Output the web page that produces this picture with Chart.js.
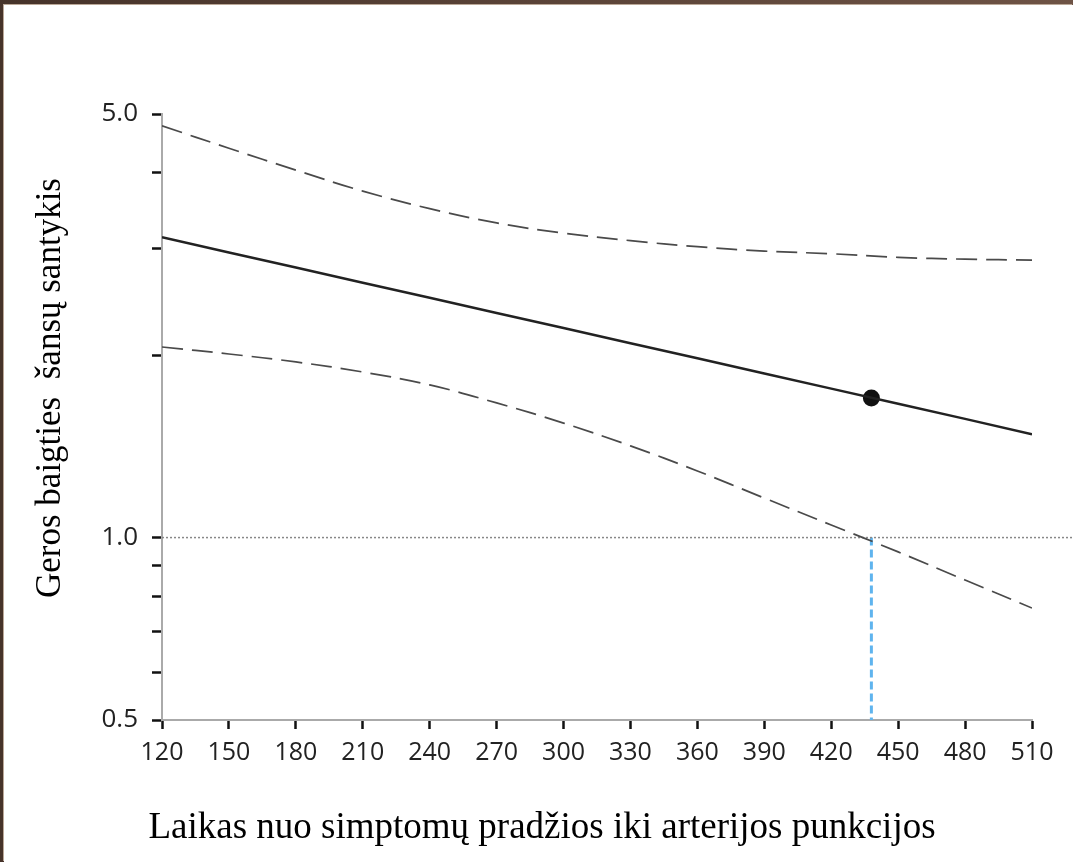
<!DOCTYPE html>
<html>
<head>
<meta charset="utf-8">
<script src="https://cdn.jsdelivr.net/npm/chart.js@4.4.1/dist/chart.umd.min.js"></script>
<style>
    html, body { margin: 0; padding: 0; }
    body {
        width: 1073px;
        height: 862px;
        overflow: hidden;
        background: linear-gradient(to right, #46332a, #6e5345);
        position: relative;
    }
    #frame {
        position: absolute;
        left: 4px;
        top: 5px;
        width: 1069px;
        height: 857px;
        background: #fff;
        box-shadow: -1px -1px 0 #bba898;
    }
    canvas { display: block; }
</style>
</head>
<body>
<div id="frame"><canvas id="or_chart" width="1069" height="857"></canvas></div>
<script>
// time from symptom onset (min)
var xValues = [120, 150, 180, 210, 240, 270, 300, 330, 360, 390, 420, 450, 480, 510];
// odds ratio and 95% CI
var oddsRatio = [3.13, 2.955, 2.79, 2.634, 2.487, 2.348, 2.217, 2.093, 1.976, 1.865, 1.761, 1.663, 1.57, 1.48];
var upperCI = [4.78, 4.39, 4.04, 3.73, 3.49, 3.305, 3.18, 3.09, 3.02, 2.97, 2.94, 2.90, 2.88, 2.87];
var lowerCI = [2.063, 2.009, 1.949, 1.876, 1.786, 1.668, 1.545, 1.417, 1.288, 1.162, 1.049, 0.947, 0.851, 0.765];

var markerX = [438];
var markerY = [1.70];

var refLineX = [120, 528];
var refLineY = [1, 1];
var crossLineX = [438, 438];
var crossLineY = [1, 0.5];

var xTicks = [120, 150, 180, 210, 240, 270, 300, 330, 360, 390, 420, 450, 480, 510];
var yTicks = [0.5, 0.6, 0.7, 0.8, 0.9, 1, 2, 3, 4, 5];
var yLabels = [0.5, 1, 5];

var xTitle = "Laikas nuo simptomų pradžios iki arterijos punkcijos";
var yTitle = "Geros baigties  šansų santykis";

function toPoints(xs, ys) {
    var pts = [];
    for (var i = 0; i < xs.length; i++) {
        pts.push({ x: xs[i], y: ys[i] });
    }
    return pts;
}

// axis titles drawn in place, the layout of the original is not centred on the plot
var axisTitles = {
    id: 'axisTitles',
    afterDraw: function (chart) {
        var ctx = chart.ctx;
        ctx.save();
        ctx.fillStyle = '#000';
        ctx.textAlign = 'center';
        ctx.textBaseline = 'alphabetic';
        ctx.font = '37px "Liberation Serif"';
        ctx.fillText(xTitle, 538, 833);
        ctx.translate(56, 383);
        ctx.rotate(-Math.PI / 2);
        ctx.font = '35px "Liberation Serif"';
        ctx.fillText(yTitle, 0, 0);
        ctx.restore();
    }
};

var ctx = document.getElementById("or_chart").getContext("2d");

var or_chart = new Chart(ctx, {
    type: 'line',
    data: {
        datasets: [{
            label: 'upper',
            data: toPoints(xValues, upperCI),
            borderColor: '#4a4a4a',
            borderWidth: 1.7,
            borderDash: [21, 9],
            tension: 0.4,
            pointRadius: 0,
            fill: false
        },
        {
            label: 'odds ratio',
            data: toPoints(xValues, oddsRatio),
            borderColor: '#222',
            borderWidth: 2.5,
            pointRadius: 0,
            fill: false
        },
        {
            label: 'lower',
            data: toPoints(xValues, lowerCI),
            borderColor: '#4a4a4a',
            borderWidth: 1.7,
            borderDash: [21, 9],
            tension: 0.4,
            pointRadius: 0,
            fill: false
        },
        {
            label: 'ref',
            data: toPoints(refLineX, refLineY),
            borderColor: '#888',
            borderWidth: 1.5,
            borderDash: [2, 2],
            pointRadius: 0,
            clip: false,
            fill: false
        },
        {
            label: 'cross',
            data: toPoints(crossLineX, crossLineY),
            borderColor: '#5fb4ee',
            borderWidth: 3,
            borderDash: [8, 4],
            pointRadius: 0,
            fill: false
        },
        {
            label: 'marker',
            data: toPoints(markerX, markerY),
            showLine: false,
            pointRadius: 8.5,
            pointBackgroundColor: '#111',
            pointBorderColor: '#111',
            pointBorderWidth: 0
        }]
    },
    options: {
        responsive: false,
        animation: false,
        layout: {
            padding: { left: 0, top: 109, right: 41, bottom: 0 }
        },
        plugins: {
            legend: { display: false },
            title: { display: false },
            tooltip: { enabled: false }
        },
        scales: {
            x: {
                type: 'linear',
                min: 120,
                max: 510,
                afterBuildTicks: function (scale) {
                    scale.ticks = xTicks.map(function (v) { return { value: v }; });
                },
                afterFit: function (scale) {
                    scale.height = 142;
                },
                ticks: {
                    autoSkip: false,
                    maxRotation: 0,
                    padding: 9,
                    color: '#222',
                    font: { family: 'Open Sans', size: 25 }
                },
                grid: {
                    drawOnChartArea: false,
                    tickLength: 9,
                    tickColor: '#111',
                    tickWidth: 2.5
                },
                border: { color: '#aaa', width: 2 }
            },
            y: {
                type: 'logarithmic',
                min: 0.5,
                max: 5,
                afterBuildTicks: function (scale) {
                    scale.ticks = yTicks.map(function (v) { return { value: v }; });
                },
                afterFit: function (scale) {
                    scale.width = 158;
                },
                ticks: {
                    autoSkip: false,
                    padding: 14,
                    color: '#222',
                    font: { family: 'Open Sans', size: 26 },
                    callback: function (value) {
                        return yLabels.indexOf(value) >= 0 ? value.toFixed(1) : '';
                    }
                },
                grid: {
                    drawOnChartArea: false,
                    tickLength: 10,
                    tickColor: '#111',
                    tickWidth: 2.5
                },
                border: { color: '#aaa', width: 2 }
            }
        }
    },
    plugins: [axisTitles]
});
</script>
</body>
</html>
